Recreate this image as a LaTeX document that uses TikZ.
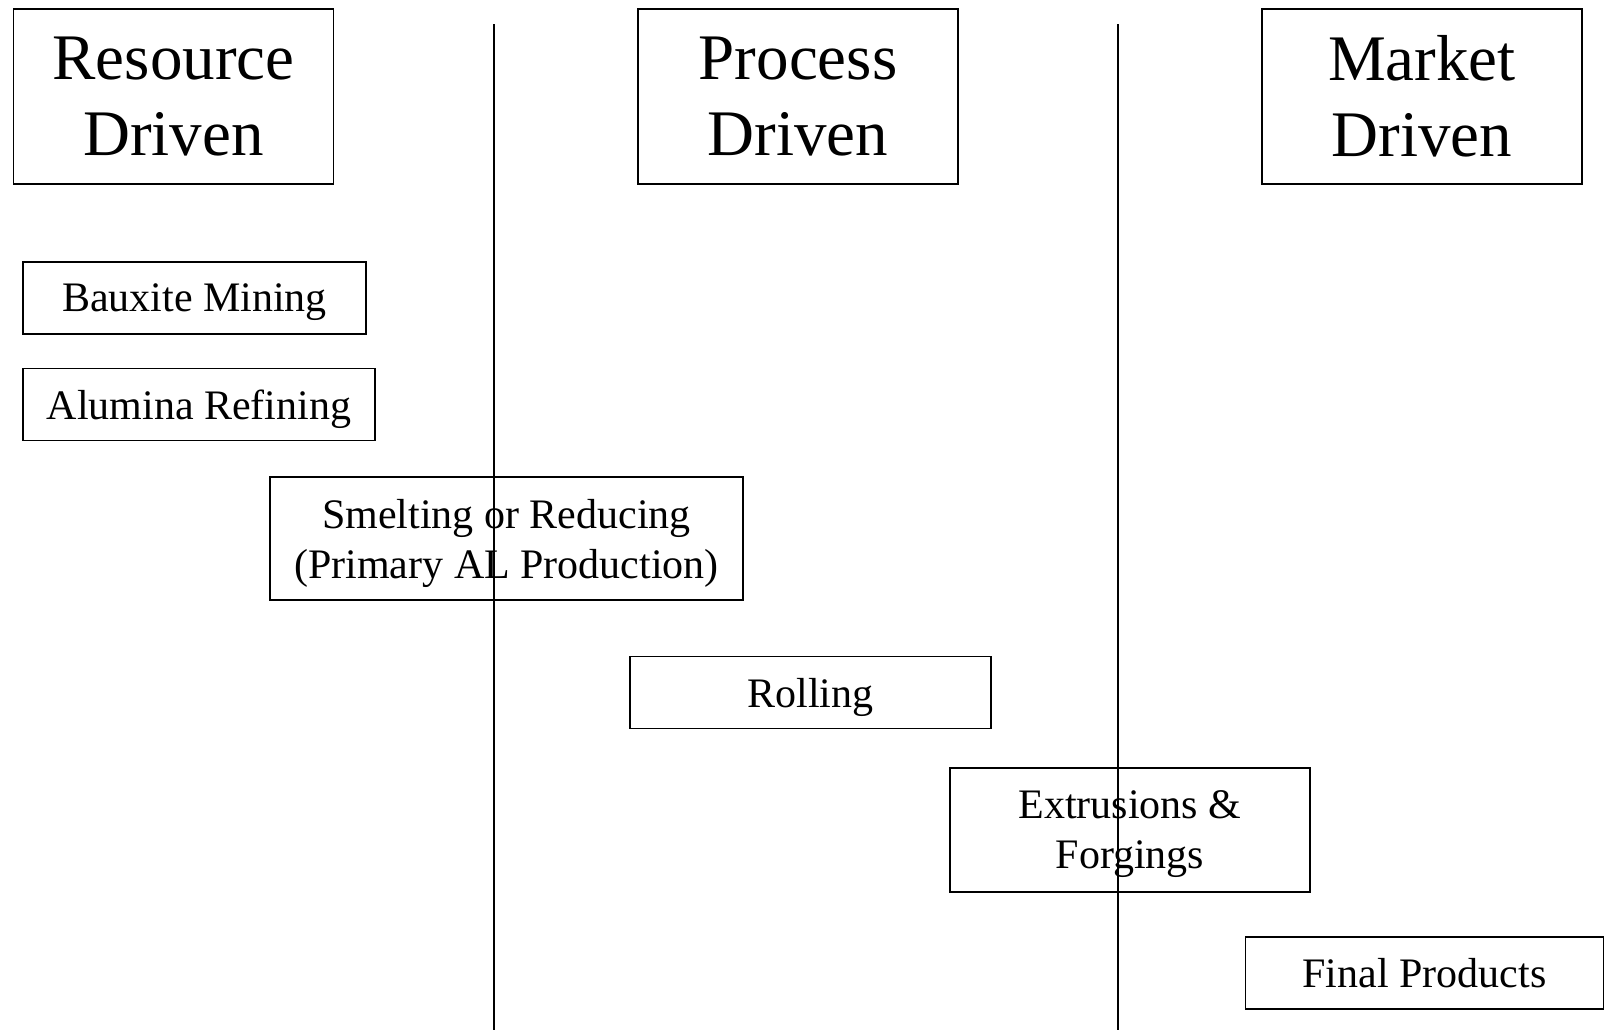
\documentclass[tikz,border=0pt]{standalone}
\usepackage{fontspec}
\setmainfont{Liberation Serif}
\usepackage{tikz}

\tikzset{
  driver/.style={draw,line width=0.9pt,align=center,minimum width=160pt,minimum height=87.5pt,inner sep=0pt,font=\fontsize{32.5}{38}\selectfont},
  stage/.style={draw,line width=0.9pt,align=center,minimum height=36pt,inner sep=0pt,text depth=-3.5pt,font=\fontsize{21}{25}\selectfont}
}

\begin{document}
\begin{tikzpicture}[x=0.5pt,y=-0.5pt]
  \useasboundingbox (0,0) rectangle (1606,1030);
  \node[driver] (res) at (173.5,96.5) {Resource\\Driven};
  \node[driver] (proc) at (798,96.5) {Process\\Driven};
  \node[driver] (mkt) at (1422,96.5) {Market\\Driven};
  \coordinate (sepAtop) at (494,24);
  \coordinate (sepAbot) at (494,1030);
  \coordinate (sepBtop) at (1118,24);
  \coordinate (sepBbot) at (1118,1030);
  \draw[line width=0.9pt] (sepAtop)--(sepAbot);
  \draw[line width=0.9pt] (sepBtop)--(sepBbot);
  \node[stage,minimum width=171.5pt] (baux) at (194.5,298) {Bauxite Mining};
  \node[stage,minimum width=176pt] (alum) at (199,404.5) {Alumina Refining};
  \node[stage,minimum width=236.5pt,minimum height=61.5pt] (smelt) at (506.5,538.5) {Smelting or Reducing\\(Primary AL Production)};
  \node[stage,minimum width=180.5pt] (roll) at (810.5,692.5) {Rolling};
  \node[stage,minimum width=180pt,minimum height=62pt] (extr) at (1130,830) {Extrusions \&\\Forgings};
  \node[stage,minimum width=179pt] (final) at (1424.5,973) {Final Products};
\end{tikzpicture}
\end{document}
